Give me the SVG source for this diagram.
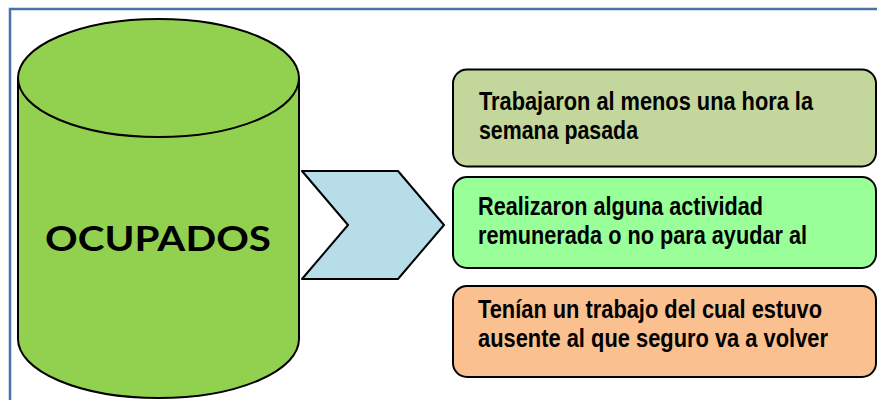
<svg xmlns="http://www.w3.org/2000/svg" width="877" height="400" viewBox="0 0 877 400">
<style>
.ol{stroke:#000;stroke-width:2;stroke-linejoin:round}
.bt{font-family:"Liberation Sans",Arial,sans-serif;font-weight:bold;font-size:26.5px;fill:#000}
.big{font-family:Lato,"Liberation Sans",Arial,sans-serif;font-weight:bold;font-size:35px;fill:#000}
</style>
<rect x="0" y="0" width="877" height="400" fill="#fff"/>
<rect x="10" y="9" width="900" height="420" fill="none" stroke="#4a74a8" stroke-width="2.5"/>
<g id="ocupados">
<path class="ol" fill="#92d050" d="M18,78 A140.5,59 0 0 1 299,78 L299,339 A140.5,59 0 0 1 18,339 Z"/>
<path class="ol" fill="none" d="M18,78 A140.5,59 0 0 0 299,78"/>
<text class="big" x="158" y="251" text-anchor="middle" textLength="226" lengthAdjust="spacingAndGlyphs">OCUPADOS</text>
</g>
<g id="connectors">
<path class="ol" fill="#b7dde8" d="M302,171 L398,171 L444,225 L398,279 L302,279 L348,225 Z"/>
</g>
<g id="box1">
<rect class="ol" x="453" y="69.5" width="423" height="97" rx="14" fill="#c3d69b"/>
<g transform="translate(479,0) scale(0.8,1)">
<text class="bt" x="0" y="110" textLength="417.5" lengthAdjust="spacingAndGlyphs">Trabajaron al menos una hora la</text>
<text class="bt" x="0" y="139" textLength="198.75" lengthAdjust="spacingAndGlyphs">semana pasada</text>
</g>
</g>
<g id="box2">
<rect class="ol" x="453" y="177" width="423" height="91" rx="14" fill="#99ff99"/>
<g transform="translate(478,0) scale(0.8,1)">
<text class="bt" x="0" y="215.5" textLength="356.25" lengthAdjust="spacingAndGlyphs">Realizaron alguna actividad</text>
<text class="bt" x="0" y="244.5" textLength="411.25" lengthAdjust="spacingAndGlyphs">remunerada o no para ayudar al</text>
</g>
</g>
<g id="box3">
<rect class="ol" x="453" y="286" width="423" height="91" rx="14" fill="#fac090"/>
<g transform="translate(478,0) scale(0.8,1)">
<text class="bt" x="0" y="318" textLength="430" lengthAdjust="spacingAndGlyphs">Tenían un trabajo del cual estuvo</text>
<text class="bt" x="0" y="347" textLength="437.5" lengthAdjust="spacingAndGlyphs">ausente al que seguro va a volver</text>
</g>
</g>
</svg>
